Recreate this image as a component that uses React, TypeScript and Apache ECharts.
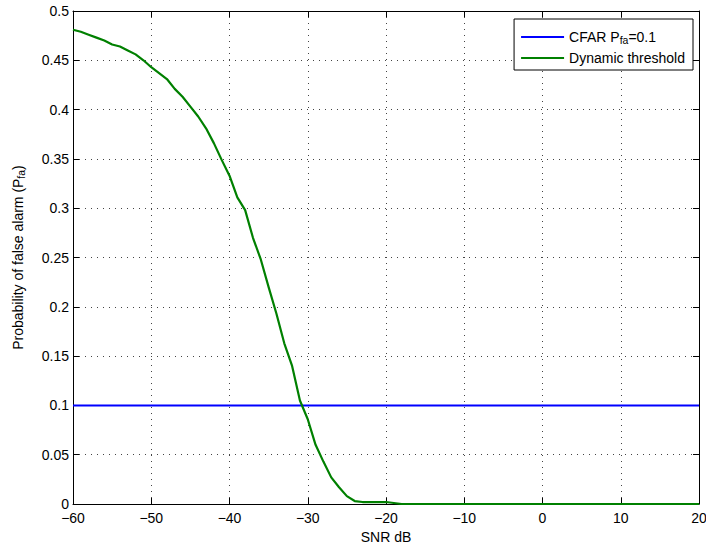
import React, { useEffect, useRef } from "react";
import * as echarts from "echarts";

const snrDb: number[] = [
  -60, -59, -58, -57, -56, -55, -54, -53, -52, -51, -50, -49, -48, -47, -46, -45, -44, -43, -42, -41,
  -40, -39, -38, -37, -36, -35, -34, -33, -32, -31, -30, -29, -28, -27, -26, -25, -24, -23, -22, -21,
  -20, -19, -18, -17, -16, -15, -14, -13, -12, -11, -10, -9, -8, -7, -6, -5, -4, -3, -2, -1,
  0, 1, 2, 3, 4, 5, 6, 7, 8, 9, 10, 11, 12, 13, 14, 15, 16, 17, 18, 19, 20,
];
const dynamicPfa: number[] = [
  0.481, 0.479, 0.476, 0.473, 0.47, 0.466, 0.464, 0.46, 0.456, 0.45, 0.443, 0.437, 0.431, 0.421, 0.413, 0.403, 0.393, 0.381, 0.366, 0.349,
  0.333, 0.311, 0.298, 0.27, 0.248, 0.22, 0.193, 0.163, 0.14, 0.105, 0.086, 0.06, 0.043, 0.027, 0.017, 0.008, 0.003, 0.002, 0.002, 0.002,
  0.002, 0.001, 0, 0, 0, 0, 0, 0, 0, 0, 0, 0, 0, 0, 0, 0, 0, 0, 0, 0,
  0, 0, 0, 0, 0, 0, 0, 0, 0, 0, 0, 0, 0, 0, 0, 0, 0, 0, 0, 0, 0,
];
const cfarPfa = 0.1;
const xTicks = { min: -60, max: 20, interval: 10 };
const yTicks = { min: 0, max: 0.5, interval: 0.05 };

const FONT = "Liberation Sans";
const FS = 14;

export default function App() {
  const ref = useRef<HTMLDivElement>(null);
  useEffect(() => {
    if (!ref.current) return;
    const chart = echarts.init(ref.current, null, { renderer: "svg" });
    const dyn = snrDb.map((x, i) => [x, dynamicPfa[i]]);
    const cfar = snrDb.map((x) => [x, cfarPfa]);
    const axisLine = { show: true, onZero: false, lineStyle: { color: "#000", width: 1 } };
    const tick = { show: true, inside: true, length: 6, lineStyle: { color: "#000" } };
    const grid = { show: true, lineStyle: { color: "#444", width: 1, type: [1, 5] as any } };
    chart.setOption({
      animation: false,
      backgroundColor: "#fff",
      textStyle: { fontFamily: FONT },
      grid: { left: 73, right: 7, top: 11, bottom: 40, containLabel: false, outerBoundsMode: "none" },
      legend: {
        orient: "vertical",
        right: 13,
        top: 19,
        itemWidth: 43,
        itemHeight: 2,
        itemGap: 6,
        padding: [6, 8, 5, 7],
        backgroundColor: "#fff",
        borderColor: "#000",
        borderWidth: 1,
        borderRadius: 0,
        data: [
          { name: "CFAR", icon: "rect" },
          { name: "Dynamic threshold", icon: "rect" },
        ],
        formatter: (n: string) =>
          n === "CFAR" ? "{t|CFAR P}{s|fa}{t|=0.1}" : "{t|Dynamic threshold}",
        textStyle: {
          fontFamily: FONT,
          color: "#000",
          rich: {
            t: { fontSize: FS, fontFamily: FONT, color: "#000", lineHeight: 16 },
            s: { fontSize: 10.5, fontFamily: FONT, color: "#000", lineHeight: 16, verticalAlign: "bottom", padding: [9, 0, 0, 0] },
          },
        },
      },
      xAxis: [
        {
          type: "value",
          min: xTicks.min,
          max: xTicks.max,
          interval: xTicks.interval,
          name: "SNR dB",
          nameLocation: "middle",
          nameGap: 23,
          nameTextStyle: { fontSize: FS, color: "#000", fontFamily: FONT },
          axisLine,
          axisTick: tick,
          axisLabel: {
            fontSize: FS,
            color: "#000",
            margin: 9,
            lineHeight: 10,
            fontFamily: FONT,
            formatter: (v: number) => String(v).replace("-", "\u2212"),
          },
          splitLine: grid,
        },
        {
          type: "value",
          position: "top",
          min: xTicks.min,
          max: xTicks.max,
          interval: xTicks.interval,
          axisLine,
          axisTick: tick,
          axisLabel: { show: false },
          splitLine: { show: false },
        },
      ],
      yAxis: [
        {
          type: "value",
          min: yTicks.min,
          max: yTicks.max,
          interval: yTicks.interval,
          name: "{a|Probability of false alarm (P}{b|fa}{a|)}",
          nameLocation: "middle",
          nameGap: 47,
          nameTextStyle: {
            color: "#000",
            fontFamily: FONT,
            rich: {
              a: { fontSize: FS, fontFamily: FONT, color: "#000", lineHeight: 16 },
              b: { fontSize: 10.5, fontFamily: FONT, color: "#000", lineHeight: 16, verticalAlign: "bottom", padding: [9, 0, 0, 0] },
            },
          },
          axisLine,
          axisTick: tick,
          axisLabel: {
            fontSize: FS,
            color: "#000",
            margin: 4,
            lineHeight: 10,
            fontFamily: FONT,
            formatter: (v: number) => String(Math.round(v * 100) / 100),
          },
          splitLine: grid,
        },
        {
          type: "value",
          position: "right",
          min: yTicks.min,
          max: yTicks.max,
          interval: yTicks.interval,
          axisLine,
          axisTick: tick,
          axisLabel: { show: false },
          splitLine: { show: false },
        },
      ],
      series: [
        {
          name: "CFAR",
          type: "line",
          data: cfar,
          showSymbol: false,
          symbol: "none",
          lineStyle: { color: "#0000ff", width: 2 },
          itemStyle: { color: "#0000ff" },
          z: 3,
        },
        {
          name: "Dynamic threshold",
          type: "line",
          data: dyn,
          showSymbol: false,
          symbol: "none",
          lineStyle: { color: "#008000", width: 2.2 },
          itemStyle: { color: "#008000" },
          z: 4,
        },
      ],
    });
    return () => chart.dispose();
  }, []);
  return <div ref={ref} style={{ width: 706, height: 544, position: "absolute", left: 0, top: 0 }} />;
}
